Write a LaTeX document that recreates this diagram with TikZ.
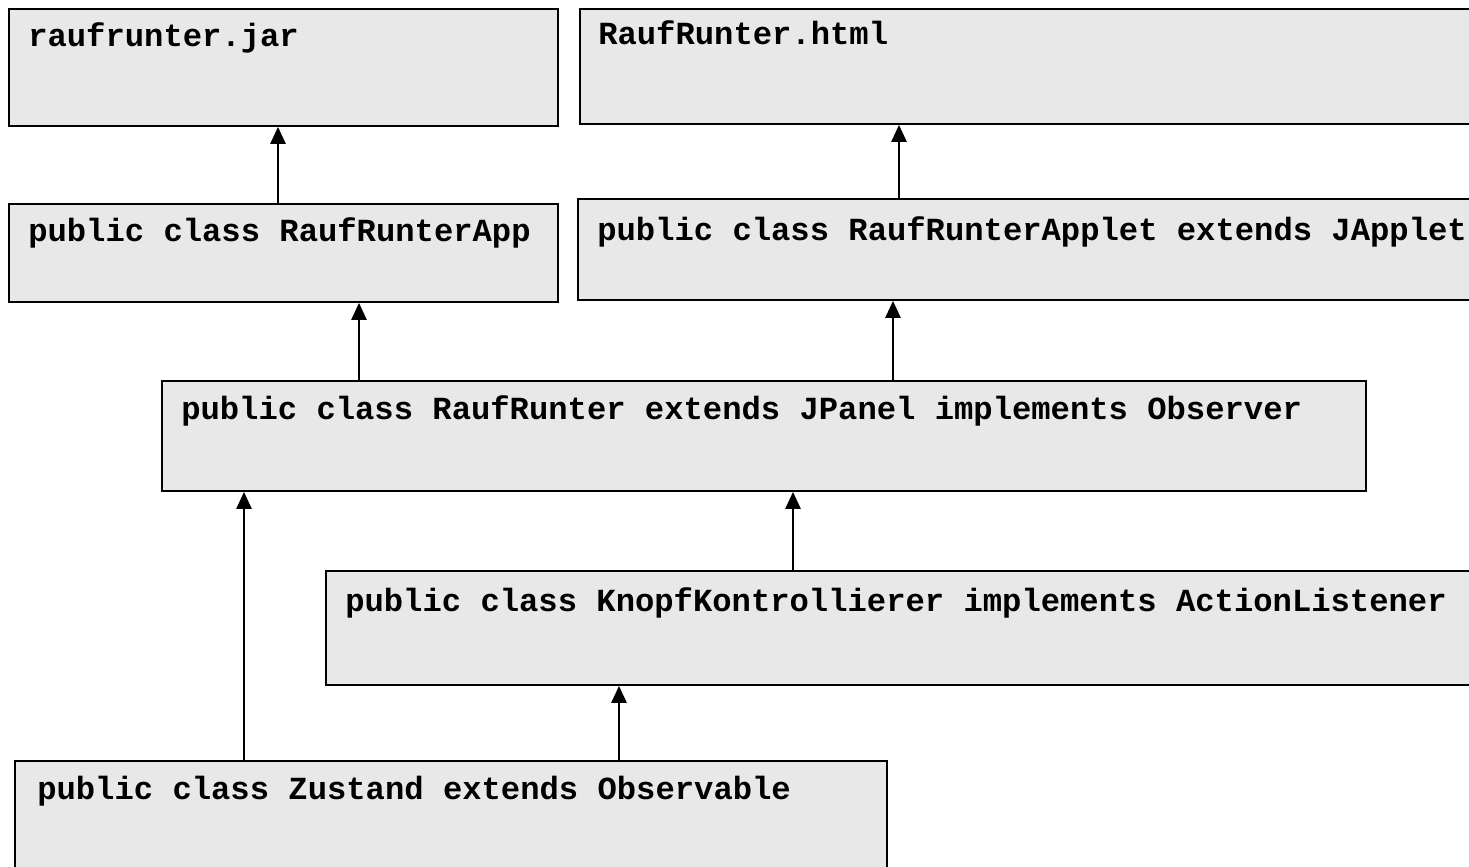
\documentclass[tikz,border=0pt]{standalone}
\usepackage{fontspec}
\setmonofont{Liberation Mono}
\usetikzlibrary{arrows.meta,calc}
\definecolor{boxgray}{HTML}{E8E8E8}
\newcommand{\px}{0.025cm}
\tikzset{
	classbox/.style={draw, fill=boxgray, line width=1.4pt, anchor=north west, inner sep=0pt},
	classname/.style={anchor=base west, inner sep=0pt, font=\ttfamily\bfseries\fontsize{22.9}{26}\selectfont},
	inherit/.style={line width=1.2pt, -{Triangle[length=0.42cm,width=0.38cm]}}
}
\begin{document}
\begin{tikzpicture}[x=\px, y=-\px]
	\useasboundingbox (0,0) rectangle (1469,867);
	\clip (0,0) rectangle (1469,867);
	%jar
	\node[classbox, minimum width=549*\px, minimum height=117*\px] (jar) at (8,8) {};
	\node[classname] (jartext) at ($(jar.north west)+(20,39)$) {raufrunter.jar};
	%html
	\node[classbox, minimum width=901*\px, minimum height=115*\px] (html) at (579,8) {};
	\node[classname] (htmltext) at ($(html.north west)+(19,37)$) {RaufRunter.html};
	%App
	\node[classbox, minimum width=549*\px, minimum height=98*\px] (app) at (8,203) {};
	\node[classname] (apptext) at ($(app.north west)+(20,38)$) {public class RaufRunterApp};
	%Applet
	\node[classbox, minimum width=903*\px, minimum height=101*\px] (applet) at (577,198) {};
	\node[classname] (applettext) at ($(applet.north west)+(20,42)$) {public class RaufRunterApplet extends JApplet};
	%RaufRunter
	\node[classbox, minimum width=1204*\px, minimum height=110*\px] (runner) at (161,380) {};
	\node[classname] (runnertext) at ($(runner.north west)+(20,39)$) {public class RaufRunter extends JPanel implements Observer};
	%Knopf
	\node[classbox, minimum width=1155*\px, minimum height=114*\px] (knopf) at (325,570) {};
	\node[classname] (knopftext) at ($(knopf.north west)+(20,41)$) {public class KnopfKontrollierer implements ActionListener};
	%Zustand
	\node[classbox, minimum width=872*\px, minimum height=120*\px] (zustand) at (14,760) {};
	\node[classname] (zustandtext) at ($(zustand.north west)+(23,39)$) {public class Zustand extends Observable};

	%arrows
	\draw[inherit] (278,0 |- app.north) -- (278,0 |- jar.south);
	\draw[inherit] (899,0 |- applet.north) -- (899,0 |- html.south);
	\draw[inherit] (359,0 |- runner.north) -- (359,0 |- app.south);
	\draw[inherit] (893,0 |- runner.north) -- (893,0 |- applet.south);
	\draw[inherit] (244,0 |- zustand.north) -- (244,0 |- runner.south);
	\draw[inherit] (793,0 |- knopf.north) -- (793,0 |- runner.south);
	\draw[inherit] (619,0 |- zustand.north) -- (619,0 |- knopf.south);
\end{tikzpicture}
\end{document}
